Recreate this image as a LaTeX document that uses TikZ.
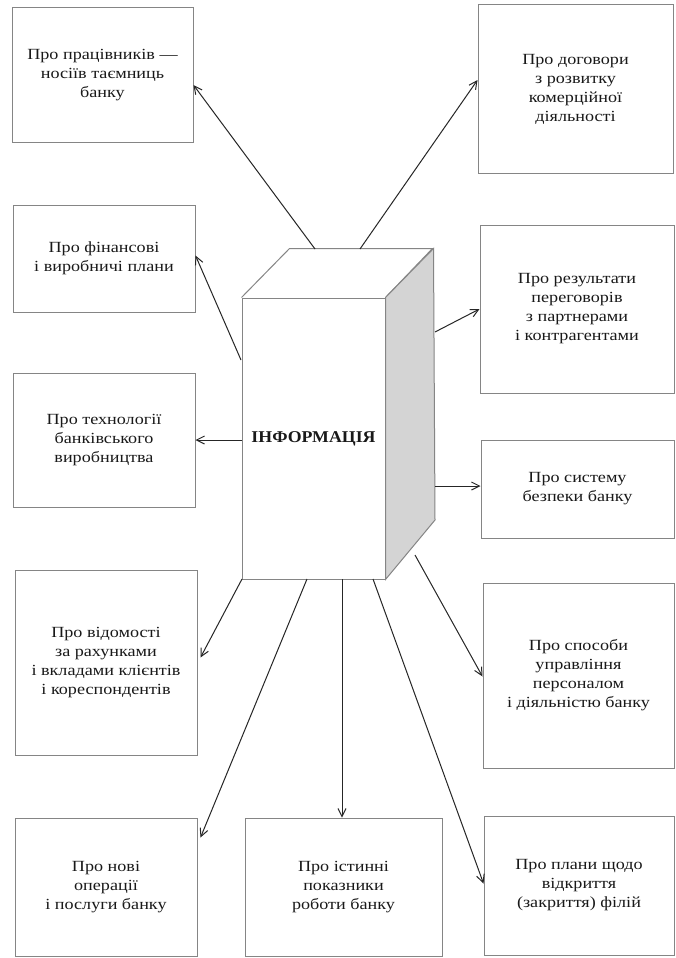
\documentclass[tikz,border=0pt]{standalone}
\usepackage{fontspec}
\setmainfont[FakeStretch=1.17]{Liberation Serif}
\newfontfamily\infofont[FakeStretch=1.08]{Liberation Serif}
\usetikzlibrary{arrows.meta,calc}
\definecolor{boxgray}{HTML}{858585}
\definecolor{facegray}{HTML}{D4D4D4}
\begin{document}
\begin{tikzpicture}[x=1pt,y=-1pt,
  box/.style={draw=boxgray, line width=1pt, align=center, inner sep=0pt,
    font=\fontsize{15.5}{19}\selectfont, text=black!90},
  arr/.style={draw=black!85, line width=1pt, -{Straight Barb[length=8pt,width=8pt]}},
  cubeedge/.style={draw=boxgray, line width=1pt}]
\useasboundingbox[fill=white] (0,0) rectangle (676,958);

% central cube (front face carries the label)
\node[cubeedge, minimum width=143pt, minimum height=281pt, inner sep=0pt,
  font=\infofont\bfseries\fontsize{16.5}{19}\selectfont, text=black!90]
  (info) at (313.5,438.5) {ІНФОРМАЦІЯ};
\draw[cubeedge] (info.north west) -- ++(48,-49) -- ++(143,0) -- (info.north east);
\filldraw[cubeedge, fill=facegray] (info.north east) -- ++(48,-49) -- (435,520) -- (info.south east) -- cycle;

% boxes
\node[box, minimum width=181pt, minimum height=134pt] (b1) at (102.5,75) {Про працівників —\\носіїв таємниць\\банку};
\node[box, minimum width=195pt, minimum height=168pt] (b2) at (575.5,89) {Про договори\\з розвитку\\комерційної\\діяльності};
\node[box, minimum width=182pt, minimum height=107pt] (b3) at (104,258.5) {Про фінансові\\і виробничі плани};
\node[box, minimum width=182pt, minimum height=134pt] (b4) at (104,440) {Про технології\\банківського\\виробництва};
\node[box, minimum width=194pt, minimum height=168pt] (b5) at (577,309) {Про результати\\переговорів\\з партнерами\\і контрагентами};
\node[box, minimum width=193pt, minimum height=98pt] (b6) at (577.5,489) {Про систему\\безпеки банку};
\node[box, minimum width=182pt, minimum height=185pt] (b7) at (106,662.5) {Про відомості\\за рахунками\\і вкладами клієнтів\\і кореспондентів};
\node[box, minimum width=182pt, minimum height=138pt] (b8) at (106,887) {Про нові\\операції\\і послуги банку};
\node[box, minimum width=197pt, minimum height=138pt] (b9) at (343.5,887) {Про істинні\\показники\\роботи банку};
\node[box, minimum width=191pt, minimum height=185pt] (b10) at (578.5,675.5) {Про способи\\управління\\персоналом\\і діяльністю банку};
\node[box, minimum width=190pt, minimum height=139pt] (b11) at (579,885.5) {Про плани щодо\\відкриття\\(закриття) філій};

% arrow start points on the cube
\coordinate (s1) at (315,249);
\coordinate (s2) at (360,249);
\coordinate (s3) at (241,360);
\coordinate (s4) at (242,440);
\coordinate (s5) at (435,332);
\coordinate (s6) at (435,486);
\coordinate (s7) at (415,555);
\coordinate (s8) at (242,579);
\coordinate (s9) at (307,579);
\coordinate (s10) at (342,579);
\coordinate (s11) at (373,579);

% connectors
\draw[arr] (s1) -- ([yshift=-10pt]b1.east);
\draw[arr] (s2) -- ([yshift=9pt]b2.west);
\draw[arr] (s3) -- ([yshift=3pt]b3.east);
\draw[arr] (s4) -- (b4.east);
\draw[arr] (s5) -- (b5.west);
\draw[arr] (s6) -- ([yshift=3pt]b6.west);
\draw[arr] (s7) -- ([yshift=-1pt]b10.west);
\draw[arr] (s8) -- ([xshift=3pt,yshift=5pt]b7.east);
\draw[arr] (s9) -- ([xshift=3pt,yshift=-20pt]b8.north east);
\draw[arr] (s10) -- (s10 |- b9.north);
\draw[arr] (s11) -- ([yshift=2pt]b11.west);
\end{tikzpicture}
\end{document}
